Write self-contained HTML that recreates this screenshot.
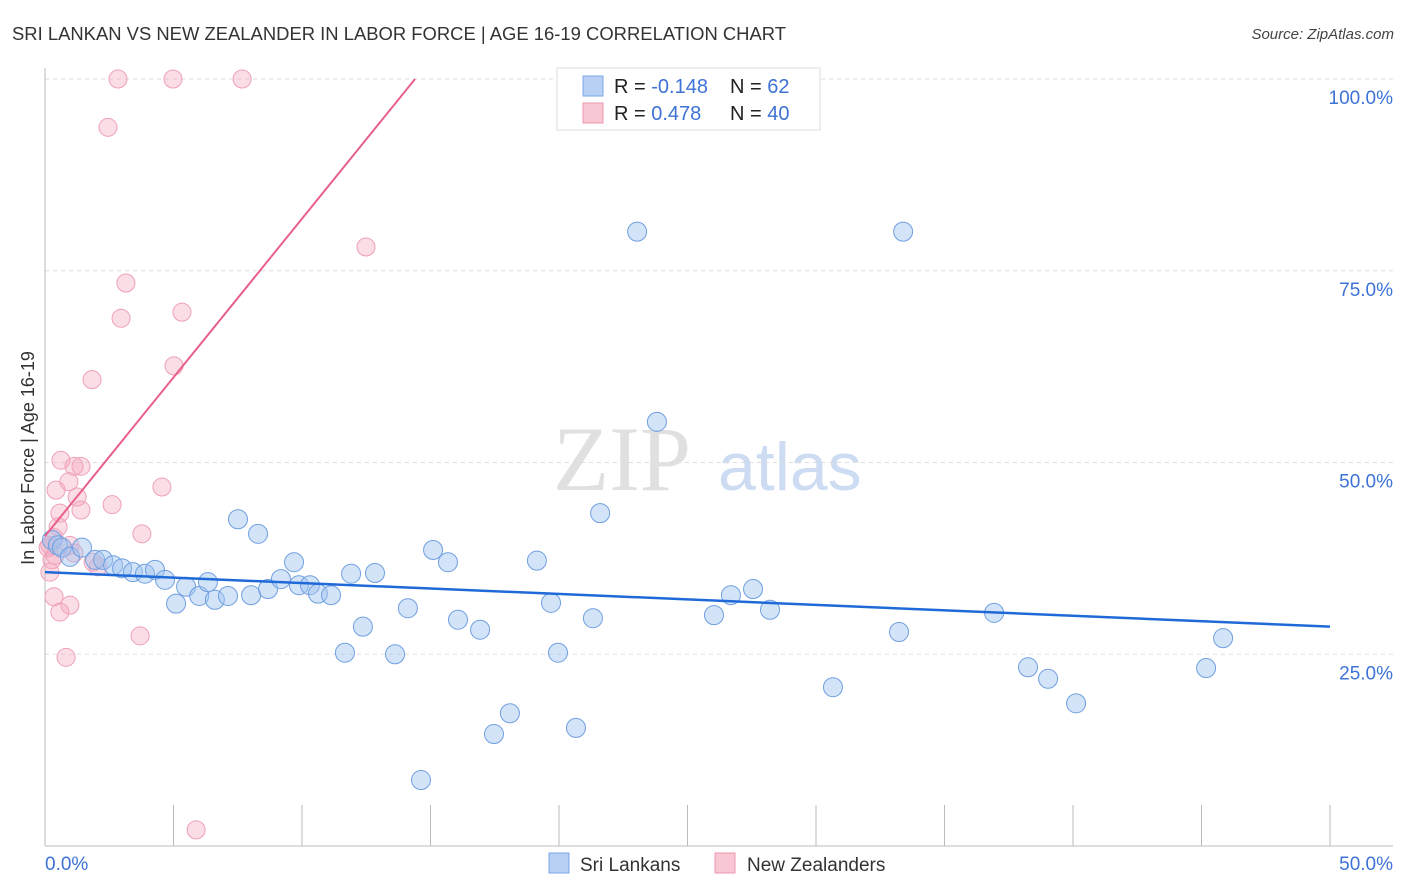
<!DOCTYPE html>
<html><head><meta charset="utf-8"><style>
body{margin:0;background:#fff;font-family:"Liberation Sans",sans-serif;}
#wrap{position:relative;width:1406px;height:892px;overflow:hidden;}
</style></head><body>
<div id="wrap">
<svg id="chart" width="1406" height="892">
<text x="12" y="40" font-size="18" fill="#333" textLength="774" lengthAdjust="spacingAndGlyphs">SRI LANKAN VS NEW ZEALANDER IN LABOR FORCE | AGE 16-19 CORRELATION CHART</text>
<text x="1394" y="39" font-size="15" fill="#444" font-style="italic" text-anchor="end">Source: ZipAtlas.com</text>
<text x="34" y="458" font-size="18" fill="#333" text-anchor="middle" transform="rotate(-90 34 458)">In Labor Force | Age 16-19</text>
<text x="553" y="490" font-size="92" fill="#e0e0e0" font-family="Liberation Serif,serif">ZIP</text>
<text x="718" y="490" font-size="68" fill="#cddcf2">atlas</text>
<g id="grid"></g><g id="ticks"></g><g id="pts"></g><g id="trend"></g>
<g>
<rect x="557" y="68" width="263" height="62" fill="#fff" stroke="#ddd"/>
<rect x="583" y="76" width="20" height="20" fill="#b8d0f4" stroke="#7aa7e8"/>
<rect x="583" y="103" width="20" height="20" fill="#f9c6d4" stroke="#ec98b0"/>
<text x="614" y="93" font-size="20" fill="#222">R = <tspan fill="#3d72d6">-0.148</tspan></text>
<text x="730" y="93" font-size="20" fill="#222">N = <tspan fill="#3d72d6"> 62</tspan></text>
<text x="614" y="120" font-size="20" fill="#222">R = <tspan fill="#3d72d6"> 0.478</tspan></text>
<text x="730" y="120" font-size="20" fill="#222">N = <tspan fill="#3d72d6">40</tspan></text>
</g>
<g>
<rect x="549" y="853" width="20" height="20" fill="#b8d0f4" stroke="#7aa7e8"/>
<text x="580" y="871" font-size="19" fill="#333">Sri Lankans</text>
<rect x="715" y="853" width="20" height="20" fill="#f9c6d4" stroke="#ec98b0"/>
<text x="747" y="871" font-size="19" fill="#333">New Zealanders</text>
</g>
</svg>
</div>
<script>
const yTicks=[25,50,75,100];
const yTickLabels=["25.0%","50.0%","75.0%","100.0%"];
const xTickLabels=["0.0%","50.0%"];
const blueX=[0.27,0.5,0.66,0.97,1.44,1.95,2.26,2.65,3.0,3.42,3.89,4.28,4.67,5.1,5.49,6.0,6.34,6.61,7.12,7.51,8.02,8.29,8.68,9.18,9.69,9.88,10.31,10.62,11.13,11.67,11.91,12.37,12.84,13.62,14.12,14.63,15.1,15.68,16.07,16.93,17.47,18.09,19.14,19.69,19.96,20.66,21.32,21.6,23.04,23.81,26.03,26.69,27.55,28.21,30.66,33.23,33.39,36.93,38.25,39.03,40.12,45.18,45.84];
const blueY=[39.9,39.2,38.9,37.7,38.9,37.3,37.3,36.6,36.2,35.7,35.5,36.0,34.7,31.6,33.8,32.6,34.4,32.1,32.6,42.6,32.7,40.7,33.5,34.8,37.0,34.0,34.0,32.9,32.7,25.2,35.5,28.6,35.6,25.0,31.0,8.6,38.6,37.0,29.5,28.2,14.6,17.3,37.2,31.7,25.2,15.4,29.7,43.4,80.1,55.3,30.1,32.7,33.5,30.8,20.7,27.9,80.1,30.4,23.3,21.8,18.6,23.2,27.1];
const pinkX=[2.84,4.98,7.67,2.45,12.49,3.15,2.96,5.33,5.02,1.83,0.62,1.4,1.13,0.43,0.93,1.25,1.4,0.58,2.61,4.55,3.77,0.51,0.35,0.19,0.97,1.13,0.27,0.19,1.87,2.06,0.35,0.97,0.58,3.7,0.82,5.88,0.12,0.39];
const pinkY=[100,100,100,93.7,78.1,73.4,68.8,69.6,62.6,60.8,50.3,49.5,49.5,46.4,47.5,45.5,43.8,43.4,44.5,46.8,40.7,41.6,40.2,39.2,39.2,38.2,37.3,35.7,37.0,36.4,32.5,31.4,30.5,27.4,24.6,2.1,38.9,37.9];
const blueTrend=[35.7,28.6];   // y at x=0 and x=50
const pinkTrend=[40.4,14.4];   // y at x=0, x where y reaches 100
const NS="http://www.w3.org/2000/svg";
const sx=v=>45+v*25.7, sy=v=>846-v*7.67;
function mk(tag,attrs,parent){const e=document.createElementNS(NS,tag);for(const k in attrs)e.setAttribute(k,attrs[k]);parent.appendChild(e);return e;}
const grid=document.getElementById('grid'),ticks=document.getElementById('ticks');
yTicks.forEach((t,i)=>{
  const l=mk('line',{x1:45,x2:1393,y1:sy(t),y2:sy(t),stroke:'#ddd','stroke-dasharray':'4,4'},grid);
  
  
  const tx=mk('text',{x:1393,y:sy(t)+25,'font-size':19,fill:'#3d72d6','text-anchor':'end'},ticks);
  tx.textContent=yTickLabels[i];
  
  
});
const ax=mk('line',{x1:45,x2:45,y1:68,y2:846,stroke:'#bbb'},ticks);


const bx=mk('line',{x1:45,x2:1393,y1:846,y2:846,stroke:'#bbb'},ticks);


for(let i=0;i<=10;i++){
  const t=mk('line',{x1:sx(i*5),x2:sx(i*5),y1:805,y2:846,stroke:'#bbb'},ticks);
  
  
}
[[0,'start',45],[50,'end',1393]].forEach((d,i)=>{
  const t=mk('text',{x:d[2],y:870,'font-size':19,fill:'#3d72d6','text-anchor':d[1]},ticks);
  t.textContent=xTickLabels[i];
  
  
});
const pts=document.getElementById('pts');
pinkX.forEach((x,i)=>{
  const c=mk('circle',{cx:sx(x),cy:sy(pinkY[i]),r:9,fill:'rgba(246,170,192,0.4)',stroke:'#eea0b8','stroke-width':1},pts);
  
  
});
blueX.forEach((x,i)=>{
  const c=mk('circle',{cx:sx(x),cy:sy(blueY[i]),r:9.5,fill:'rgba(160,195,240,0.45)',stroke:'#6f9fe0','stroke-width':1},pts);
  
  
});
const tr=document.getElementById('trend');
const bl=mk('line',{x1:sx(0),y1:sy(blueTrend[0]),x2:sx(50),y2:sy(blueTrend[1]),stroke:'#1f6ad8','stroke-width':2.5},tr);


const pl=mk('line',{x1:sx(0),y1:sy(pinkTrend[0]),x2:sx(pinkTrend[1]),y2:sy(100),stroke:'#e8608a','stroke-width':2},tr);


</script>
</body></html>
